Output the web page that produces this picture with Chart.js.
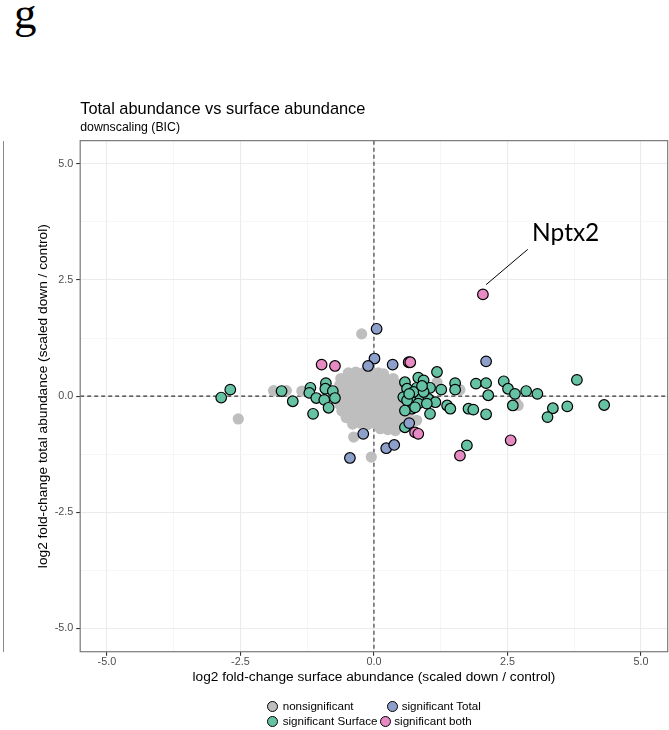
<!DOCTYPE html>
<html>
<head>
<meta charset="utf-8">
<script src="https://cdn.jsdelivr.net/npm/chart.js@4.4.1/dist/chart.umd.min.js"></script>
<style>
  body { margin: 0; background: #fff; }
  #wrap { position: relative; width: 669px; height: 730px; overflow: hidden; font-family: "Liberation Sans", Arial, sans-serif; }
  #myChart { position: absolute; left: 0; top: 0; }
  .panel-tag { position: absolute; left: 14px; top: -9px; font: 45px/45px "Liberation Serif", serif; color: #000; }
  .neighbour { position: absolute; left: 2.5px; top: 141px; width: 1px; height: 511px; background: #8a8a8a; }
  .key { position: absolute; width: 11px; height: 11px; border: 1.2px solid #000; border-radius: 50%; box-sizing: border-box; }
  .key-label { position: absolute; font-size: 11.6px; line-height: 14px; color: #000; white-space: nowrap; }
</style>
</head>
<body>
<div id="wrap">
  <div class="panel-tag">g</div>
  <div class="neighbour"></div>
  <canvas id="myChart" width="669" height="730"></canvas>
  <div id="legend"></div>
</div>
<script>
// axis breaks
const xMajorTicks = [-5, -2.5, 0, 2.5, 5];
const yMajorTicks = [-5, -2.5, 0, 2.5, 5];
const xGridLines = [-5, -3.75, -2.5, -1.25, 0, 1.25, 2.5, 3.75, 5];
const yGridLines = [-5, -3.75, -2.5, -1.25, 0, 1.25, 2.5, 3.75, 5];

// [surface log2FC, total log2FC]
const nonsignificant = [
  [-0.23, 1.34], [-2.54, -0.49], [-1.88, 0.12], [-1.64, 0.12], [-1.35, 0.11],
  [-0.38, -0.88], [-0.05, -1.31], [2.65, -0.13], [2.7, -0.2], [1.61, 0.14],
  [1.18, 0.3], [0.8, -0.52],
  [-0.48, 0.5], [-0.34, 0.52], [-0.2, 0.5], [-0.06, 0.53], [0.08, 0.5], [0.18, 0.48],
  [-0.62, 0.38], [-0.48, 0.36], [-0.34, 0.39], [-0.2, 0.37], [-0.06, 0.36], [0.08, 0.39], [0.22, 0.36], [0.36, 0.38],
  [-0.64, 0.24], [-0.5, 0.22], [-0.36, 0.25], [-0.22, 0.23], [-0.08, 0.24], [0.06, 0.22], [0.2, 0.25], [0.34, 0.23], [0.48, 0.25],
  [-0.66, 0.1], [-0.52, 0.12], [-0.38, 0.09], [-0.24, 0.11], [-0.1, 0.1], [0.04, 0.12], [0.18, 0.09], [0.32, 0.11], [0.46, 0.1], [0.58, 0.12],
  [-0.66, -0.04], [-0.52, -0.02], [-0.38, -0.05], [-0.24, -0.03], [-0.1, -0.04], [0.04, -0.02], [0.18, -0.05], [0.32, -0.03], [0.46, -0.04], [0.6, -0.02],
  [-0.64, -0.18], [-0.5, -0.2], [-0.36, -0.17], [-0.22, -0.19], [-0.08, -0.18], [0.06, -0.2], [0.2, -0.17], [0.34, -0.19], [0.48, -0.18], [0.62, -0.2],
  [-0.6, -0.32], [-0.46, -0.3], [-0.32, -0.33], [-0.18, -0.31], [-0.04, -0.32], [0.1, -0.3], [0.24, -0.33], [0.38, -0.31], [0.52, -0.32], [0.66, -0.34],
  [-0.52, -0.46], [-0.38, -0.48], [-0.24, -0.45], [-0.1, -0.47], [0.04, -0.46], [0.18, -0.48], [0.32, -0.45], [0.46, -0.47], [0.6, -0.46],
  [-0.4, -0.6], [-0.26, -0.58], [-0.12, -0.61], [0.02, -0.59], [0.16, -0.6], [0.3, -0.62], [0.44, -0.6],
  [0.12, -0.7], [0.26, -0.72], [0.4, -0.74]
];
const sigSurface = [
  [-2.69, 0.14], [-2.86, -0.03], [-1.73, 0.11], [-1.52, -0.11], [-1.19, 0.18], [-1.21, 0.07],
  [-0.9, 0.28], [-0.91, 0.16], [-0.77, 0.11], [-1.08, -0.04], [-0.93, -0.08], [-0.73, -0.04],
  [-0.85, -0.25], [-1.14, -0.38],
  [0.58, 0.3], [0.83, 0.4], [0.93, 0.34], [0.62, 0.16], [0.8, 0.18], [1.05, 0.18], [1.26, 0.14],
  [0.55, -0.02], [0.71, -0.02], [0.87, -0.06], [1.02, -0.06], [1.15, -0.13], [0.71, -0.27],
  [1.05, -0.38], [1.37, -0.2], [1.43, -0.27], [1.52, 0.28], [1.52, 0.14], [1.91, 0.27], [2.1, 0.28],
  [2.14, 0.02], [1.77, -0.27], [1.86, -0.29], [2.1, -0.39], [2.43, 0.32], [2.51, 0.16], [2.64, 0.05],
  [2.85, 0.11], [3.06, 0.05], [2.6, -0.2], [3.35, -0.26], [3.25, -0.45], [3.62, -0.22], [3.8, 0.35],
  [4.31, -0.19], [0.58, -0.67], [1.18, 0.52], [0.74, 0.09], [0.93, 0.09], [0.83, -0.16], [0.99, -0.16],
  [0.62, -0.09], [0.58, -0.31], [0.77, -0.24], [0.66, 0.05], [0.9, 0.22], [1.74, -1.06]
];
const sigTotal = [
  [0.05, 1.45], [0.01, 0.81], [-0.11, 0.65], [0.35, 0.68], [2.1, 0.75],
  [-0.2, -0.81], [-0.45, -1.33], [0.66, -0.58], [0.23, -1.12], [0.38, -1.05]
];
const sigBoth = [
  [2.04, 2.19], [-0.98, 0.68], [-0.73, 0.65], [0.65, 0.73], [0.68, 0.73],
  [0.77, -0.78], [0.83, -0.81], [1.61, -1.28], [2.56, -0.95]
];
const leaderLine = [[2.1, 2.4], [2.88, 3.16]];
const geneLabel = { text: "Nptx2", x: 2.96, y: 3.34 };

const groupNames = ["nonsignificant", "significant Total", "significant Surface", "significant both"];
const groupColors = ["#BEBEBE", "#8DA0CB", "#66C2A5", "#E78AC3"];

const FONT = "'Liberation Sans', Arial, sans-serif";
const toXY = (pts) => pts.map(([x, y]) => ({ x, y }));
const near = (list, v) => list.some((m) => Math.abs(m - v) < 1e-9);

const panelDecor = {
  id: "panelDecor",
  beforeDatasetsDraw(chart) {
    const { ctx, chartArea: a, scales: { x, y } } = chart;
    const x0 = x.getPixelForValue(0);
    const y0 = y.getPixelForValue(0);
    ctx.save();
    ctx.strokeStyle = "#333";
    ctx.lineWidth = 1.1;
    ctx.setLineDash([4, 3]);
    ctx.beginPath();
    ctx.moveTo(x0, a.top);
    ctx.lineTo(x0, a.bottom);
    ctx.moveTo(a.left, y0);
    ctx.lineTo(a.right, y0);
    ctx.stroke();
    ctx.restore();
  },
  afterDraw(chart) {
    const { ctx, chartArea: a, scales: { x, y } } = chart;
    ctx.save();
    ctx.strokeStyle = "#7a7a7a";
    ctx.lineWidth = 1.2;
    ctx.strokeRect(a.left, a.top, a.right - a.left, a.bottom - a.top);
    ctx.fillStyle = "#000";
    ctx.font = "24.5px Lato";
    ctx.textBaseline = "alphabetic";
    ctx.fillText(geneLabel.text, x.getPixelForValue(geneLabel.x), y.getPixelForValue(geneLabel.y));
    ctx.restore();
  },
};

const axisStyle = (majors, grid) => ({
  type: "linear",
  min: -5.5,
  max: 5.5,
  afterBuildTicks: (s) => { s.ticks = grid.map((v) => ({ value: v })); },
  border: { display: false },
  grid: {
    color: (c) => (near(majors, c.tick.value) ? "#ebebeb" : "#f4f4f4"),
    lineWidth: (c) => (near(majors, c.tick.value) ? 1.1 : 0.8),
    tickColor: (c) => (near(majors, c.tick.value) ? "#333" : "rgba(0,0,0,0)"),
    tickLength: 4,
  },
  ticks: {
    autoSkip: false,
    maxRotation: 0,
    color: "#4d4d4d",
    font: { family: FONT, size: 10.8 },
    callback: (v) => (near(majors, v) ? Number(v).toFixed(1) : ""),
  },
});

const xAxis = axisStyle(xMajorTicks, xGridLines);
xAxis.ticks.padding = 0;
xAxis.afterFit = (s) => {
  s.height = 33.8;
  s.paddingLeft = 0;
  s.paddingRight = 0;
};
xAxis.title = {
  display: true,
  text: "log2 fold-change surface abundance (scaled down / control)",
  color: "#000",
  font: { family: FONT, size: 13.7 },
  padding: { top: 0, bottom: 0 },
};

const yAxis = axisStyle(yMajorTicks, yGridLines);
yAxis.ticks.padding = 2.9;
yAxis.afterFit = (s) => {
  s.width = 80.2;
  s.paddingTop = 0;
  s.paddingBottom = 0;
};
yAxis.title = {
  display: true,
  text: "log2 fold-change total abundance (scaled down / control)",
  color: "#000",
  font: { family: FONT, size: 13.7 },
  padding: { top: 35.1, bottom: 0 },
};

const pointSet = (label, pts, color, order, outlined) => ({
  label,
  data: toXY(pts),
  backgroundColor: color,
  borderColor: outlined ? "#000" : color,
  borderWidth: outlined ? 1.2 : 0,
  pointRadius: outlined ? 5.3 : 5.6,
  pointHoverRadius: outlined ? 5.3 : 5.6,
  order,
});

new Chart(document.getElementById("myChart"), {
  type: "scatter",
  data: {
    datasets: [
      { type: "line", label: "leader", data: toXY(leaderLine), borderColor: "#000", borderWidth: 1, pointRadius: 0, order: 0 },
      pointSet(groupNames[3], sigBoth, groupColors[3], 1, true),
      pointSet(groupNames[1], sigTotal, groupColors[1], 2, true),
      pointSet(groupNames[2], sigSurface, groupColors[2], 3, true),
      pointSet(groupNames[0], nonsignificant, groupColors[0], 4, false),
    ],
  },
  options: {
    responsive: false,
    animation: false,
    devicePixelRatio: 1,
    layout: { autoPadding: false, padding: { left: 0, right: 1.3, top: 0, bottom: 44.5 } },
    scales: { x: xAxis, y: yAxis },
    plugins: {
      legend: { display: false },
      tooltip: { enabled: false },
      title: {
        display: true,
        text: "Total abundance vs surface abundance",
        align: "start",
        fullSize: false,
        color: "#000",
        font: { family: FONT, size: 16.4, weight: "normal" },
        padding: { top: 99.6, bottom: 0 },
      },
      subtitle: {
        display: true,
        text: "downscaling (BIC)",
        align: "start",
        fullSize: false,
        color: "#000",
        font: { family: FONT, size: 12.3 },
        padding: { top: 0.5, bottom: 6.1 },
      },
    },
  },
  plugins: [panelDecor],
});

// legend (two rows, left aligned like the original)
const legendSpots = [
  { i: 0, cx: 272.3, cy: 706.3, tx: 282.7 },
  { i: 1, cx: 392.7, cy: 706.3, tx: 401.7 },
  { i: 2, cx: 272.3, cy: 721.3, tx: 282.7 },
  { i: 3, cx: 385.7, cy: 721.3, tx: 394.3 },
];
const legendEl = document.getElementById("legend");
legendSpots.forEach(({ i, cx, cy, tx }) => {
  const key = document.createElement("div");
  key.className = "key";
  key.style.left = cx - 5.5 + "px";
  key.style.top = cy - 5.5 + "px";
  key.style.background = groupColors[i];
  const lab = document.createElement("div");
  lab.className = "key-label";
  lab.style.left = tx + "px";
  lab.style.top = cy - 7 + "px";
  lab.textContent = groupNames[i];
  legendEl.appendChild(key);
  legendEl.appendChild(lab);
});
</script>
</body>
</html>
